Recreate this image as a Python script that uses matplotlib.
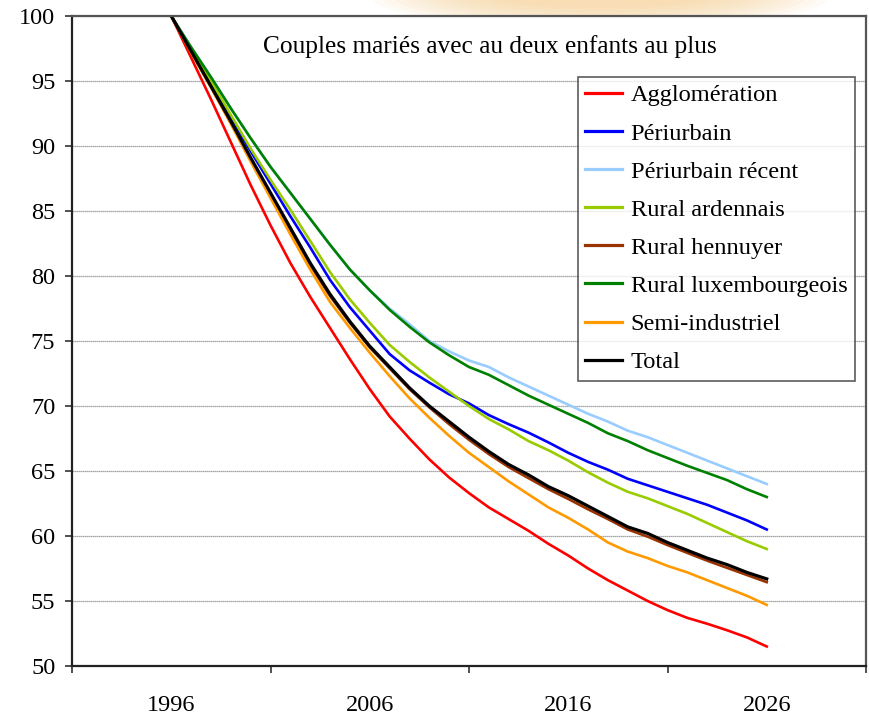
import matplotlib
matplotlib.use("Agg")
import matplotlib.pyplot as plt
from matplotlib.patches import Ellipse
from matplotlib.ticker import FixedLocator

years = list(range(1996, 2027))

agglomeration = [100, 96.8, 93.6, 90.3, 87.0, 83.9, 81.0, 78.4, 76.0, 73.6,
                 71.3, 69.2, 67.5, 65.9, 64.5, 63.3, 62.2, 61.3, 60.4, 59.4,
                 58.5, 57.5, 56.6, 55.8, 55.0, 54.3, 53.7, 53.25, 52.75, 52.2, 51.5]
periurbain = [100, 97.4, 94.8, 92.2, 89.6, 87.1, 84.6, 82.2, 79.7, 77.6,
              75.8, 74.0, 72.75, 71.8, 70.9, 70.2, 69.3, 68.6, 67.95, 67.2,
              66.4, 65.7, 65.1, 64.4, 63.9, 63.4, 62.9, 62.4, 61.8, 61.2, 60.5]
periurbain_recent = [100, 97.6, 95.3, 92.9, 90.6, 88.4, 86.4, 84.4, 82.4, 80.5,
                     78.9, 77.5, 76.3, 75.0, 74.2, 73.5, 73.0, 72.2, 71.5, 70.8,
                     70.1, 69.4, 68.8, 68.1, 67.6, 67.0, 66.4, 65.8, 65.2, 64.6, 64.0]
rural_ardennais = [100, 97.5, 95.0, 92.4, 89.8, 87.4, 85.1, 82.7, 80.3, 78.2,
                   76.4, 74.7, 73.4, 72.2, 71.1, 70.0, 69.0, 68.2, 67.3, 66.6,
                   65.8, 64.9, 64.1, 63.4, 62.9, 62.3, 61.7, 61.0, 60.3, 59.6, 59.0]
rural_hennuyer = [100, 97.25, 94.55, 91.8, 89.0, 86.3, 83.55, 80.85, 78.45, 76.4,
                  74.5, 72.9, 71.3, 69.9, 68.6, 67.4, 66.3, 65.3, 64.45, 63.6,
                  62.85, 62.05, 61.3, 60.5, 59.95, 59.3, 58.7, 58.1, 57.55, 57.0, 56.45]
rural_luxembourgeois = [100, 97.6, 95.3, 92.9, 90.6, 88.4, 86.4, 84.4, 82.4, 80.5,
                        78.9, 77.4, 76.1, 74.9, 73.9, 73.0, 72.4, 71.6, 70.8, 70.1,
                        69.4, 68.7, 67.9, 67.3, 66.6, 66.0, 65.4, 64.85, 64.3, 63.6, 63.0]
semi_industriel = [100, 97.2, 94.5, 91.7, 88.8, 86.0, 83.2, 80.5, 78.0, 76.0,
                   74.1, 72.3, 70.6, 69.1, 67.7, 66.4, 65.3, 64.2, 63.2, 62.2,
                   61.4, 60.5, 59.5, 58.8, 58.3, 57.7, 57.2, 56.6, 56.0, 55.4, 54.7]
total = [100, 97.3, 94.6, 91.9, 89.1, 86.4, 83.7, 81.0, 78.6, 76.5,
         74.6, 73.0, 71.4, 70.0, 68.8, 67.6, 66.5, 65.5, 64.7, 63.8,
         63.1, 62.3, 61.5, 60.7, 60.2, 59.5, 58.9, 58.3, 57.8, 57.2, 56.7]

series_labels = ["Agglomération", "Périurbain", "Périurbain récent", "Rural ardennais",
                 "Rural hennuyer", "Rural luxembourgeois", "Semi-industriel", "Total"]
series_values = [agglomeration, periurbain, periurbain_recent, rural_ardennais,
                 rural_hennuyer, rural_luxembourgeois, semi_industriel, total]
series_colors = ["#FF0000", "#0000FF", "#99CCFF", "#99CC00",
                 "#993300", "#008000", "#FF9900", "#000000"]

x_tick_labels = ["1996", "2006", "2016", "2026"]
y_ticks = [50, 55, 60, 65, 70, 75, 80, 85, 90, 95, 100]
title_text = "Couples mariés avec au deux enfants au plus"

plt.rcParams['font.family'] = ['Liberation Serif', 'DejaVu Serif']

fig = plt.figure(figsize=(8.69, 7.17), dpi=100)
fig.patch.set_facecolor("white")

# faint orange glow above the plot area
n_layers = 12
for i in range(n_layers):
    f = 1 - i / n_layers
    e = Ellipse((600 / 869, 1 + 5 / 717), (200 + 260 * f) / 869, (20 + 50 * f) / 717,
                transform=fig.transFigure, facecolor="#F8CF8E", edgecolor="none",
                alpha=0.08, zorder=0)
    fig.patches.append(e)

ax = fig.add_axes([72 / 869, 1 - 666 / 717, 794 / 869, 650 / 717])
ax.set_facecolor("white")
ax.set_zorder(1)

for label, vals, col in zip(series_labels, series_values, series_colors):
    lw = 2.3 if label == "Total" else 1.9
    ax.plot(years, vals, color=col, lw=lw, label=label, solid_joinstyle="round")

ax.set_xlim(1991, 2031)
ax.set_ylim(50, 100)

ax.set_yticks(y_ticks)
ax.set_yticklabels([str(v) for v in y_ticks])
ax.yaxis.grid(True, color="#8c8c8c", lw=0.9, ls=(0, (1, 0.6)))
ax.set_axisbelow(True)

ax.set_xticks([int(t) for t in x_tick_labels])
ax.set_xticklabels(x_tick_labels)
ax.xaxis.set_minor_locator(FixedLocator([1991, 2001, 2011, 2021, 2031]))
ax.tick_params(axis="x", which="major", length=0, pad=21, labelsize=17.5)
ax.tick_params(axis="x", which="minor", length=5, width=1.2, direction="out", color="#333333")
ax.tick_params(axis="y", which="major", length=5, width=1.2, direction="out",
               pad=7, labelsize=17.5, color="#333333")

for side in ["left", "bottom"]:
    ax.spines[side].set_color("#222222")
    ax.spines[side].set_linewidth(1.6)
for side in ["top", "right"]:
    ax.spines[side].set_color("#555555")
    ax.spines[side].set_linewidth(1.6)

ax.text((490 - 72) / 794, (666 - 47) / 650, title_text, transform=ax.transAxes,
        ha="center", va="center", fontsize=18.3)

leg = ax.legend(loc="upper left", bbox_to_anchor=((578 - 72) / 794, (666 - 77) / 650),
                borderaxespad=0, frameon=True, fancybox=False, fontsize=17.6,
                handlelength=1.5, handletextpad=0.35, labelspacing=0.655,
                borderpad=0.3)
leg.get_frame().set_edgecolor("#333333")
leg.get_frame().set_linewidth(1.2)
for line in leg.get_lines():
    line.set_linewidth(2.3)

fig.savefig("out.png", dpi=100)
